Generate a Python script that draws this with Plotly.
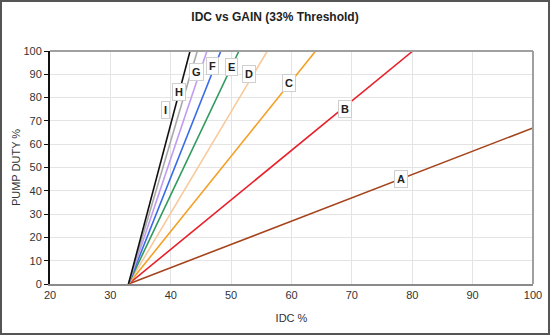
import plotly.graph_objects as go

# Pump duty curves: every gain line rises from the 33% IDC threshold
series_names = ["A", "B", "C", "D", "E", "F", "G", "H", "I"]
start_idc = [33, 33, 33, 33, 33, 33, 33, 33, 33]
start_duty = [0, 0, 0, 0, 0, 0, 0, 0, 0]
end_idc = [100, 80.1, 64.0, 56.0, 51.3, 48.3, 46.0, 44.4, 43.2]
end_duty = [67, 100, 100, 100, 100, 100, 100, 100, 100]

# Label positions along each line
label_idc = [78.2, 68.9, 59.6, 53.0, 50.0, 46.9, 44.3, 41.4, 39.2]
label_duty = [45.1, 75.1, 86.3, 90.1, 93.1, 93.6, 91.0, 82.4, 74.7]

x_ticks = [20, 30, 40, 50, 60, 70, 80, 90, 100]
y_ticks = [0, 10, 20, 30, 40, 50, 60, 70, 80, 90, 100]

colors = ["#a5441c", "#e8202a", "#f4a025", "#f8c99c", "#2f9a5c",
          "#3a6ae8", "#c09cf2", "#a9a9a9", "#111111"]

FONT = "Liberation Sans Narrow, Arial Narrow, Liberation Sans, Arial, sans-serif"

fig = go.Figure()
for name, x0, y0, x1, y1, c in zip(series_names, start_idc, start_duty,
                                   end_idc, end_duty, colors):
    fig.add_trace(go.Scatter(
        x=[x0, x1], y=[y0, y1], mode="lines", name=name,
        line=dict(color=c, width=1.6), cliponaxis=True, showlegend=False,
    ))

for name, lx, ly in zip(series_names, label_idc, label_duty):
    fig.add_annotation(
        x=lx, y=ly, text="<b>%s</b>" % name, showarrow=False,
        font=dict(family=FONT, size=11, color="#222222"),
        bgcolor="white", bordercolor="#cfcfcf", borderwidth=1, borderpad=2,
    )

fig.update_layout(
    width=550, height=335,
    margin=dict(l=50, r=17, t=51, b=51, autoexpand=False),
    paper_bgcolor="white", plot_bgcolor="white",
    title=dict(text="<b>IDC vs GAIN (33% Threshold)</b>", x=0.5, xanchor="center",
               y=0.95, yanchor="middle",
               font=dict(family=FONT, size=12, color="#222222")),
    font=dict(family=FONT, size=11, color="#333333"),
    xaxis=dict(
        range=[20, 100], tickvals=x_ticks, showgrid=True, gridcolor="#e4e4e4",
        gridwidth=1, zeroline=False, showline=True, linecolor="#8a8a8a",
        linewidth=2, mirror=False, ticks="", ticklen=0, automargin=False,
        title=dict(text="IDC %", font=dict(family=FONT, size=11, color="#333333"),
                   standoff=14),
        tickfont=dict(family=FONT, size=11, color="#333333"),
        fixedrange=True,
    ),
    yaxis=dict(
        range=[0, 100], tickvals=y_ticks, showgrid=True, gridcolor="#e4e4e4",
        gridwidth=1, zeroline=False, showline=True, linecolor="#111111",
        linewidth=2, ticks="outside", ticklen=4, tickcolor="#111111",
        automargin=False,
        title=dict(text="PUMP DUTY %", font=dict(family=FONT, size=11, color="#333333"),
                   standoff=1),
        tickfont=dict(family=FONT, size=11, color="#333333"),
        fixedrange=True,
    ),
    shapes=[
        # top and right edges of the plotting area
        dict(type="line", xref="paper", yref="paper", x0=0, y0=1, x1=1, y1=1,
             line=dict(color="#a0a0a0", width=2)),
        dict(type="line", xref="paper", yref="paper", x0=1, y0=0, x1=1, y1=1,
             line=dict(color="#a0a0a0", width=2)),
        # outer frame round the whole chart
        dict(type="rect", xref="paper", yref="paper", x0=-49/483, y0=-50/233,
             x1=1 + 16/483, y1=1 + 50/233,
             line=dict(color="#555555", width=2)),
    ],
)

fig.write_html("out.html", config={"displayModeBar": False})
